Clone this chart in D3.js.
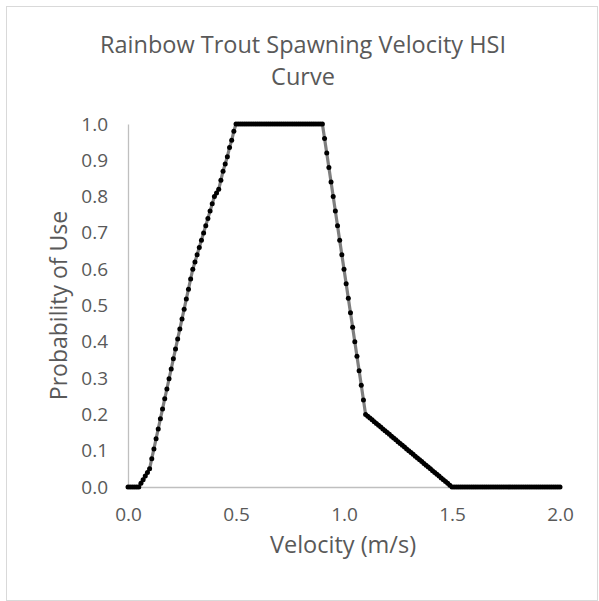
<!DOCTYPE html>
<html>
<head>
<meta charset="utf-8">
<script src="https://cdn.jsdelivr.net/npm/d3@7"></script>
<style>
  html, body { margin: 0; padding: 0; background: #fff; }
  svg { display: block; }
  text { font-family: "Open Sans", sans-serif; fill: #595959; }
</style>
</head>
<body>
<svg id="chart" width="599" height="601"></svg>
<script>
const chartTitle = ["Rainbow Trout Spawning Velocity HSI", "Curve"];
const xTitle = "Velocity (m/s)";
const yTitle = "Probability of Use";
const xTicks = [0, 0.5, 1.0, 1.5, 2.0];
const yTicks = [0, 0.1, 0.2, 0.3, 0.4, 0.5, 0.6, 0.7, 0.8, 0.9, 1.0];

const velocity = [
  0,0.01,0.02,0.03,0.04,0.05,0.06,0.07,0.08,0.09,
  0.10,0.11,0.12,0.13,0.14,0.15,0.16,0.17,0.18,0.19,
  0.20,0.21,0.22,0.23,0.24,0.25,0.26,0.27,0.28,0.29,
  0.30,0.31,0.32,0.33,0.34,0.35,0.36,0.37,0.38,0.39,
  0.40,0.41,0.42,0.43,0.44,0.45,0.46,0.47,0.48,0.49,
  0.50,0.51,0.52,0.53,0.54,0.55,0.56,0.57,0.58,0.59,
  0.60,0.61,0.62,0.63,0.64,0.65,0.66,0.67,0.68,0.69,
  0.70,0.71,0.72,0.73,0.74,0.75,0.76,0.77,0.78,0.79,
  0.80,0.81,0.82,0.83,0.84,0.85,0.86,0.87,0.88,0.89,
  0.90,0.91,0.92,0.93,0.94,0.95,0.96,0.97,0.98,0.99,
  1.00,1.01,1.02,1.03,1.04,1.05,1.06,1.07,1.08,1.09,
  1.10,1.11,1.12,1.13,1.14,1.15,1.16,1.17,1.18,1.19,
  1.20,1.21,1.22,1.23,1.24,1.25,1.26,1.27,1.28,1.29,
  1.30,1.31,1.32,1.33,1.34,1.35,1.36,1.37,1.38,1.39,
  1.40,1.41,1.42,1.43,1.44,1.45,1.46,1.47,1.48,1.49,
  1.50,1.51,1.52,1.53,1.54,1.55,1.56,1.57,1.58,1.59,
  1.60,1.61,1.62,1.63,1.64,1.65,1.66,1.67,1.68,1.69,
  1.70,1.71,1.72,1.73,1.74,1.75,1.76,1.77,1.78,1.79,
  1.80,1.81,1.82,1.83,1.84,1.85,1.86,1.87,1.88,1.89,
  1.90,1.91,1.92,1.93,1.94,1.95,1.96,1.97,1.98,1.99,
  2.00
];

const probability = [
  0,0,0,0,0,0,0.01,0.02,0.03,0.04,
  0.05,0.078,0.105,0.133,0.16,0.188,0.215,0.243,0.27,0.298,
  0.325,0.353,0.38,0.408,0.435,0.463,0.49,0.518,0.545,0.573,
  0.6,0.62,0.64,0.66,0.68,0.7,0.72,0.74,0.76,0.78,
  0.8,0.81,0.82,0.845,0.87,0.89,0.91,0.935,0.955,0.98,
  1,1,1,1,1,1,1,1,1,1,
  1,1,1,1,1,1,1,1,1,1,
  1,1,1,1,1,1,1,1,1,1,
  1,1,1,1,1,1,1,1,1,1,
  1,0.96,0.92,0.88,0.84,0.8,0.76,0.72,0.68,0.64,
  0.6,0.56,0.52,0.48,0.44,0.4,0.36,0.32,0.28,0.24,
  0.2,0.195,0.19,0.185,0.18,0.175,0.17,0.165,0.16,0.155,
  0.15,0.145,0.14,0.135,0.13,0.125,0.12,0.115,0.11,0.105,
  0.1,0.095,0.09,0.085,0.08,0.075,0.07,0.065,0.06,0.055,
  0.05,0.045,0.04,0.035,0.03,0.025,0.02,0.015,0.01,0.005,
  0,0,0,0,0,0,0,0,0,0,
  0,0,0,0,0,0,0,0,0,0,
  0,0,0,0,0,0,0,0,0,0,
  0,0,0,0,0,0,0,0,0,0,
  0,0,0,0,0,0,0,0,0,0,
  0
];

const data = velocity.map((v, i) => ({ v: v, p: probability[i] }));

const svg = d3.select("#chart");

// chart border
svg.append("rect")
  .attr("x", 6.5).attr("y", 6.5)
  .attr("width", 591).attr("height", 594)
  .attr("fill", "#fff")
  .attr("stroke", "#d9d9d9")
  .attr("stroke-width", 1);

const x = d3.scaleLinear().domain([0, 2]).range([128, 560]);
const y = d3.scaleLinear().domain([0, 1]).range([487, 124]);

// title
const title = svg.append("text")
  .attr("text-anchor", "middle")
  .style("font-size", "23.5px");
title.selectAll("tspan").data(chartTitle).join("tspan")
  .attr("x", 303)
  .attr("y", (d, i) => 53 + i * 32)
  .text(d => d);

// axes
const fmt = d3.format(".1f");
const xAxis = svg.append("g")
  .attr("transform", `translate(0,${y(0)})`)
  .call(d3.axisBottom(x).tickValues(xTicks).tickFormat(fmt).tickSizeInner(0).tickSizeOuter(0).tickPadding(21));
const yAxis = svg.append("g")
  .attr("transform", `translate(${x(0)},0)`)
  .call(d3.axisLeft(y).tickValues(yTicks).tickFormat(fmt).tickSizeInner(0).tickSizeOuter(0).tickPadding(20));

[xAxis, yAxis].forEach(g => {
  g.select(".domain").attr("stroke", "#bfbfbf").attr("stroke-width", 1.3);
  g.selectAll(".tick line").remove();
  g.selectAll(".tick text")
    .style("font-family", '"Open Sans", sans-serif')
    .style("font-size", "19px")
    .attr("fill", "#595959");
});

// axis titles
svg.append("text")
  .attr("x", 343).attr("y", 553)
  .attr("text-anchor", "middle")
  .style("font-size", "23.5px")
  .text(xTitle);

svg.append("text")
  .attr("transform", `translate(67,${(y(0) + y(1)) / 2}) rotate(-90)`)
  .attr("text-anchor", "middle")
  .style("font-size", "23px")
  .text(yTitle);

// series line
const line = d3.line().x(d => x(d.v)).y(d => y(d.p));
svg.append("path")
  .datum(data)
  .attr("d", line)
  .attr("fill", "none")
  .attr("stroke", "#7f7f7f")
  .attr("stroke-width", 3.2)
  .attr("stroke-linejoin", "round");

// markers
svg.append("g").selectAll("circle").data(data).join("circle")
  .attr("cx", d => x(d.v))
  .attr("cy", d => y(d.p))
  .attr("r", 2.5)
  .attr("fill", "#000");
</script>
</body>
</html>
